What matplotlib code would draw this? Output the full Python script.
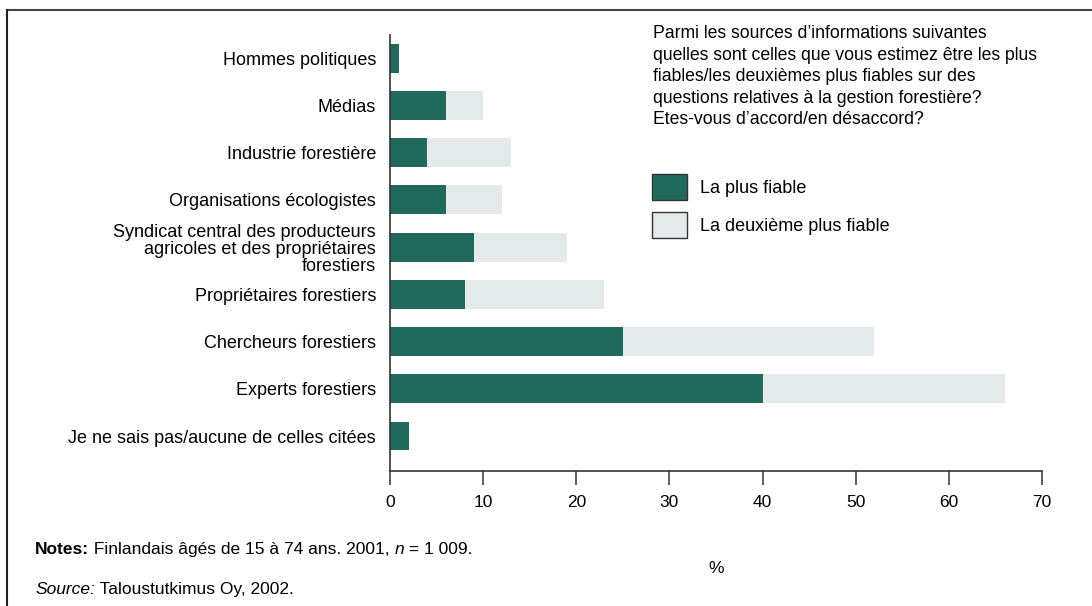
import matplotlib
matplotlib.use("Agg")
import matplotlib.pyplot as plt
from matplotlib.patches import Patch
from matplotlib.lines import Line2D
import numpy as np

plt.rcParams['font.family'] = ['Liberation Sans', 'DejaVu Sans']

categories = ["Hommes politiques", "Médias", "Industrie forestière",
              "Organisations écologistes",
              "Syndicat central des producteurs\nagricoles et des propriétaires\nforestiers",
              "Propriétaires forestiers", "Chercheurs forestiers",
              "Experts forestiers", "Je ne sais pas/aucune de celles citées"]
most_reliable = [1, 6, 4, 6, 9, 8, 25, 40, 2]
second_reliable = [0, 4, 9, 6, 10, 15, 27, 26, 0]
series_names = ["La plus fiable", "La deuxième plus fiable"]
xticks = [0, 10, 20, 30, 40, 50, 60, 70]

dark = "#22695d"
light = "#e2ebea"
axcol = "#333333"

W, H = 1092, 606
fig = plt.figure(figsize=(W / 100, H / 100), dpi=100)
ax = fig.add_axes([390 / W, 1 - 471 / H, 652 / W, 436 / H])

y = np.arange(len(categories))
ax.barh(y, most_reliable, height=0.61, color=dark, linewidth=0)
ax.barh(y, second_reliable, left=most_reliable, height=0.61, color=light, linewidth=0)

ax.set_xlim(0, 70)
ax.set_ylim(8.74, -0.49)
ax.set_xticks(xticks)
ax.set_yticks(y)
ax.set_yticklabels(categories, fontsize=13, linespacing=1.0)
ax.tick_params(axis='y', length=0, pad=10)
ax.tick_params(axis='x', length=10, width=1.1, color=axcol, pad=7, labelsize=12.5)
for s in ['top', 'right']:
    ax.spines[s].set_visible(False)
for s in ['left', 'bottom']:
    ax.spines[s].set_color(axcol)
    ax.spines[s].set_linewidth(1.2)
ax.set_xlabel('%', fontsize=12.5, labelpad=37)

# question text
fig.text(653 / W, 1 - 25 / H,
         "Parmi les sources d\u2019informations suivantes\n"
         "quelles sont celles que vous estimez être les plus\n"
         "fiables/les deuxièmes plus fiables sur des\n"
         "questions relatives à la gestion forestière?\n"
         "Etes-vous d\u2019accord/en désaccord?",
         ha='left', va='top', fontsize=12.7, linespacing=1.35)

handles = [Patch(facecolor=dark, edgecolor='#333333', linewidth=1.0),
           Patch(facecolor=light, edgecolor='#333333', linewidth=1.0)]
fig.legend(handles, series_names, loc='upper left',
           bbox_to_anchor=(652 / W, 1 - 174 / H), frameon=False,
           fontsize=13, handlelength=1.94, handleheight=1.85,
           handletextpad=0.7, labelspacing=0.64, borderpad=0, borderaxespad=0)

# notes and source (pieces chained on a common bottom line)
t1 = fig.text(35 / W, 1 - 557 / H, "Notes:", weight='bold',
              ha='left', va='bottom', fontsize=12.5)
t2 = ax.annotate(" Finlandais âgés de 15 à 74 ans. 2001, ", xy=(1, 0), xycoords=t1,
                 ha='left', va='bottom', fontsize=12.5, annotation_clip=False)
t3 = ax.annotate("n", xy=(1, 0), xycoords=t2, style='italic',
                 ha='left', va='bottom', fontsize=12.5, annotation_clip=False)
ax.annotate(" = 1 009.", xy=(1, 0), xycoords=t3,
            ha='left', va='bottom', fontsize=12.5, annotation_clip=False)

s1 = fig.text(35 / W, 1 - 597 / H, "Source:", style='italic',
              ha='left', va='bottom', fontsize=12.5)
ax.annotate(" Taloustutkimus Oy, 2002.", xy=(1, 0), xycoords=s1,
            ha='left', va='bottom', fontsize=12.5, annotation_clip=False)

# frame lines
fig.add_artist(Line2D([7 / W, 1], [1 - 10 / H, 1 - 10 / H], transform=fig.transFigure,
                      color='#444444', linewidth=1.5))
fig.add_artist(Line2D([7 / W, 7 / W], [0, 1 - 10 / H], transform=fig.transFigure,
                      color='#222222', linewidth=1.5))

fig.savefig("out.png", dpi=100)
